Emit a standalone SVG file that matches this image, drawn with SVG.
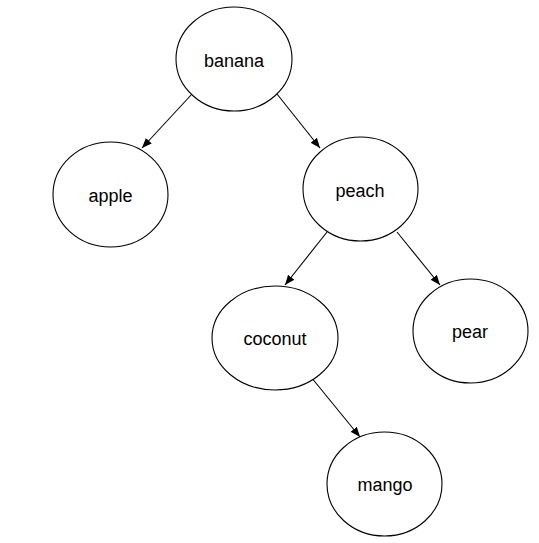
<svg xmlns="http://www.w3.org/2000/svg" width="539" height="543" viewBox="0 0 539 543">
<style>
.node ellipse{fill:#fff;stroke:#000;stroke-width:1.1}
.node text{font-family:"Liberation Sans",Arial,sans-serif;font-size:18px;fill:#000;text-anchor:middle}
.edge{stroke:#000;stroke-width:1.1;fill:none;marker-end:url(#arr)}
</style>
<defs>
<marker id="arr" viewBox="0 0 10 10" refX="10" refY="5" markerWidth="10" markerHeight="10" markerUnits="userSpaceOnUse" orient="auto">
<path d="M0,1 L10,5 L0,9 z" fill="#000"/>
</marker>
</defs>
<rect width="539" height="543" fill="#fff"/>
<g id="connectors">
<line class="edge" x1="192" y1="94" x2="142" y2="148"/>
<line class="edge" x1="277" y1="94" x2="320" y2="148"/>
<line class="edge" x1="327" y1="232" x2="285" y2="285"/>
<line class="edge" x1="397" y1="232" x2="440" y2="285"/>
<line class="edge" x1="311" y1="377" x2="360" y2="437"/>
</g>
<g id="banana" class="node"><ellipse cx="234" cy="59" rx="58" ry="52"/><text x="234" y="67">banana</text></g>
<g id="apple" class="node"><ellipse cx="110.5" cy="194.5" rx="57.5" ry="52.5"/><text x="110.5" y="202">apple</text></g>
<g id="peach" class="node"><ellipse cx="360.5" cy="189" rx="57.5" ry="52"/><text x="360" y="197">peach</text></g>
<g id="coconut" class="node"><ellipse cx="275" cy="338" rx="63" ry="52"/><text x="275" y="345">coconut</text></g>
<g id="pear" class="node"><ellipse cx="470.5" cy="331" rx="57.5" ry="52"/><text x="470" y="338">pear</text></g>
<g id="mango" class="node"><ellipse cx="384.5" cy="484" rx="57.5" ry="52"/><text x="385" y="491">mango</text></g>
</svg>
